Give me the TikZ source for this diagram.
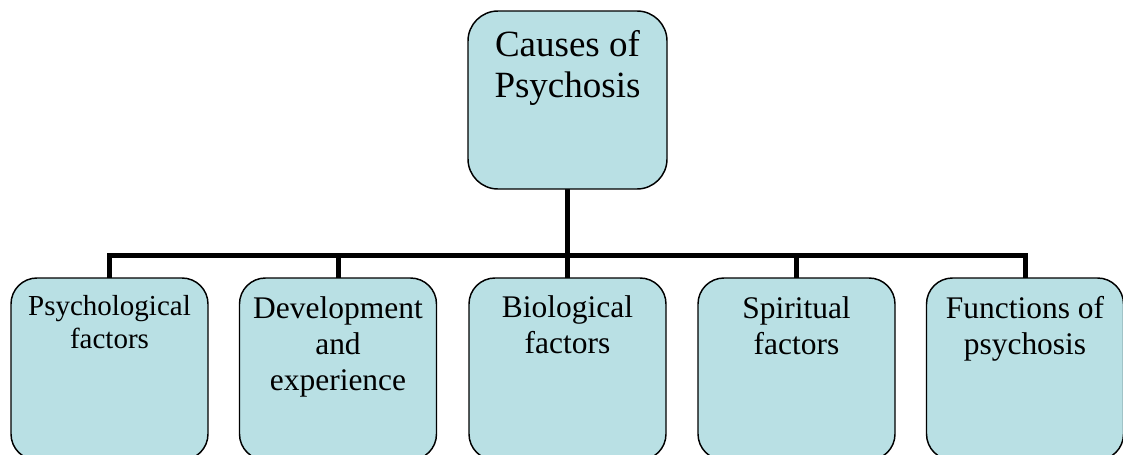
\documentclass[tikz,border=0pt]{standalone}
\usepackage{fontspec}
\setmainfont{Liberation Serif}
\usetikzlibrary{backgrounds}
\definecolor{boxfill}{RGB}{185,224,228}
\begin{document}
\begin{tikzpicture}[x=0.75pt,y=-0.75pt,
  topbox/.style={draw=black,line width=1.1pt,fill=boxfill,rounded corners=22.5pt,
    minimum width=149.25pt,minimum height=133.5pt,inner sep=0pt},
  subbox/.style={draw=black,line width=1.1pt,fill=boxfill,rounded corners=19.5pt,
    minimum width=147.75pt,minimum height=136.5pt,inner sep=0pt},
  toptext/.style={anchor=north,inner sep=0pt,align=center,
    font=\fontsize{27.75pt}{30.75pt}\selectfont},
  subtext/.style={anchor=north,inner sep=0pt,align=center,
    font=\fontsize{23.6pt}{27pt}\selectfont},
  smalltext/.style={anchor=north,inner sep=0pt,align=center,
    font=\fontsize{21.75pt}{24.75pt}\selectfont},
  link/.style={line width=3.75pt,line join=miter,line cap=rect}]
\useasboundingbox (0,0) rectangle (1123,454);
\clip (0,0) rectangle (1123,454);

% boxes (the lower row runs off the bottom edge)
\node[topbox] (top) at (567.5,100) {};
\node[subbox] (b1) at (109.5,369) {};
\node[subbox] (b2) at (338,369) {};
\node[subbox] (b3) at (567.5,369) {};
\node[subbox] (b4) at (796.5,369) {};
\node[subbox] (b5) at (1025,369) {};

% tree lines behind the boxes
\coordinate (bus) at (0,255);
\begin{scope}[on background layer]
  \fill[white] (0,0) rectangle (1123,454);
  \draw[link] (top.south) -- (b3.north);
  \draw[link] (b1.north) |- (b5.north |- bus) -- (b5.north);
  \draw[link] (b2.north) -- (b2.north |- bus);
  \draw[link] (b4.north) -- (b4.north |- bus);
\end{scope}

% labels
\node[toptext] (ttop) at (567.5,30) {Causes of\\Psychosis};
\node[smalltext] (t1) at (109.5,295) {Psychological\\factors};
\node[subtext] (t2) at (338,296) {Development\\and\\experience};
\node[subtext] (t3) at (567.5,295) {Biological\\factors};
\node[subtext] (t4) at (796.5,296) {Spiritual\\factors};
\node[subtext] (t5) at (1025,296) {Functions of\\psychosis};
\end{tikzpicture}
\end{document}
